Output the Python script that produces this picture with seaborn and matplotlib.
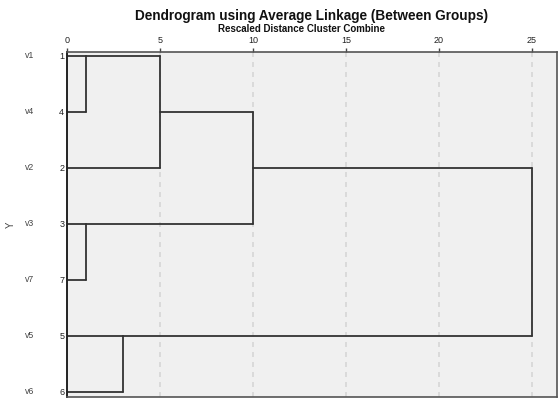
import numpy as np
import pandas as pd
import matplotlib
matplotlib.use("Agg")
import matplotlib.pyplot as plt
import matplotlib.transforms as mtransforms
import seaborn as sns

# Leaves in display order, with their case numbers
leaf_names = ["v1", "v4", "v2", "v3", "v7", "v5", "v6"]
case_numbers = ["1", "4", "2", "3", "7", "5", "6"]

# Agglomeration steps: (left node, right node, rescaled distance)
# nodes 0-6 are leaf rows, 7+ are clusters formed in earlier steps
merge_left = [0, 3, 7, 5, 8, 10]
merge_right = [1, 4, 2, 6, 9, 11]
merge_dist = [1, 1, 5, 3, 10, 25]

x_ticks = [0, 5, 10, 15, 20, 25]

# Build elbow segments
row = {i: float(i) for i in range(len(leaf_names))}
height = {i: 0.0 for i in range(len(leaf_names))}
segs = []
for k, (a, b, d) in enumerate(zip(merge_left, merge_right, merge_dist)):
    node = len(leaf_names) + k
    for c in (a, b):
        segs.append([(height[c], row[c]), (d, row[c])])
    segs.append([(d, row[a]), (d, row[b])])
    row[node] = float(np.floor((row[a] + row[b]) / 2))
    height[node] = float(d)

records = []
for s, seg in enumerate(segs):
    for x, y in seg:
        records.append({"seg": s, "dist": x, "row": y})
df = pd.DataFrame(records)

sns.set_style("white")
plt.rcParams["font.family"] = ["Liberation Sans", "DejaVu Sans"]

fig = plt.figure(figsize=(5.58, 3.98), dpi=100)
ax = fig.add_axes([67 / 558, 1 / 398, 490 / 558, 345 / 398])
ax.set_facecolor("#f0f0f0")

for xv in x_ticks[1:]:
    ax.axvline(xv, color="#d6d6d6", lw=1.2, ls=(0, (3, 3)), zorder=0)

sns.lineplot(data=df, x="dist", y="row", units="seg", estimator=None,
             sort=False, color="#333333", lw=1.3, ax=ax, legend=False)

ax.set_xlim(0, 490 / 18.6)
ax.set_ylim(6.09, -0.07)

ax.xaxis.tick_top()
ax.set_xticks(x_ticks)
ax.set_xticklabels([str(t) for t in x_ticks], fontsize=6.5, color="#222222")
ax.tick_params(axis="x", direction="out", length=3, width=1, pad=2, color="#444444")
ax.set_yticks(range(len(case_numbers)))
ax.set_yticklabels(case_numbers, fontsize=6.5, color="#222222")
ax.tick_params(axis="y", length=0, pad=2)
ax.set_xlabel("")
ax.set_ylabel("Y", fontsize=7, color="#444444")
ax.yaxis.set_label_coords((16 - 67) / 490, 0.5)

trans = mtransforms.blended_transform_factory(fig.transFigure, ax.transData)
for i, name in enumerate(leaf_names):
    ax.text(30 / 558, i, name, transform=trans, ha="center", va="center",
            fontsize=6.3, color="#444444")

for side in ["top", "left", "right", "bottom"]:
    ax.spines[side].set_visible(True)
    ax.spines[side].set_color("#555555")
    ax.spines[side].set_linewidth(1.2)
ax.spines["left"].set_color("#222222")
ax.spines["left"].set_linewidth(1.4)

fig.text(312 / 558, 1 - 16 / 398, "Dendrogram using Average Linkage (Between Groups)",
         ha="center", va="center", fontsize=9.8, fontweight="bold", color="#111111")
fig.text(301 / 558, 1 - 29.5 / 398, "Rescaled Distance Cluster Combine",
         ha="center", va="center", fontsize=7, fontweight="bold", color="#111111")

fig.savefig("out.png", dpi=100, facecolor="white")
